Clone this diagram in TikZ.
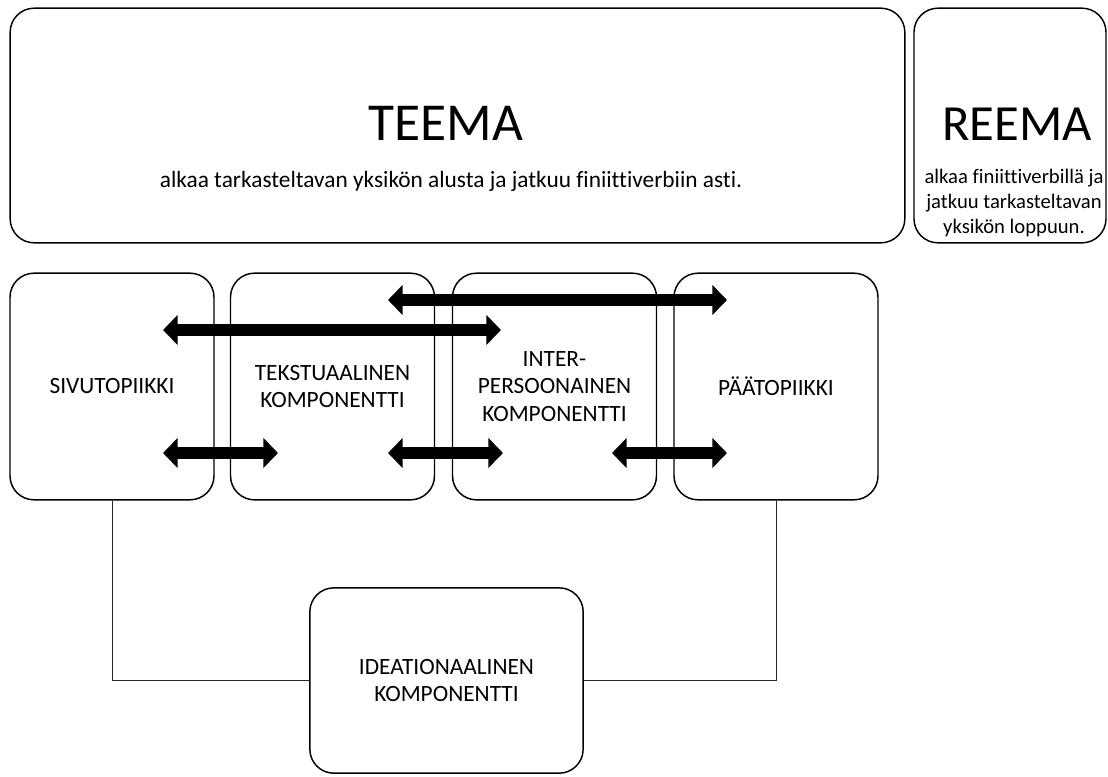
\documentclass[tikz,border=0pt]{standalone}
\usepackage{fontspec}
\setmainfont{Carlito}[Ligatures=NoCommon]
\usetikzlibrary{arrows.meta}

\begin{document}
\begin{tikzpicture}[
x=0.75pt, y=-0.75pt,
bx/.style = {draw, line width=1.1pt, rounded corners=18pt, minimum width=153pt, minimum height=170pt, align=center, font=\fontsize{17.5}{20.5}\selectfont},
big/.style = {inner sep=0pt, font=\fontsize{40}{48}\selectfont},
dar/.style = {{Triangle[width=22pt,length=11pt]}-{Triangle[width=22pt,length=11pt]}, line width=9.5pt},
ln/.style = {line width=0.75pt, black!85}
]
  \useasboundingbox (0,0) rectangle (1108,776);

  \node[bx, minimum width=671pt, minimum height=176pt] (teema) at (457.5,125.5) {};
  \node[bx, minimum width=144pt, minimum height=176pt] (reema) at (1010,125.5) {};
  \node[big, anchor=base] (teemat) at (446,140) {TEEMA};
  \node[inner sep=0pt, anchor=base, font=\fontsize{17.5}{20.5}\selectfont] (teemas) at (451,187) {alkaa tarkasteltavan yksikön alusta ja jatkuu finiittiverbiin asti.};
  \node[big, anchor=base, font=\fontsize{38}{46}\selectfont] (reemat) at (1017,140) {REEMA};
  \node[inner sep=0pt, align=center, font=\fontsize{15.5}{18.5}\selectfont] (reemas) at (1014,203) {alkaa finiittiverbillä ja\\jatkuu tarkasteltavan\\yksikön loppuun.};

  \node[bx] (sivu) at (112,386.5) {SIVUTOPIIKKI};
  \node[bx] (teks) at (332.5,386.5) {TEKSTUAALINEN\\KOMPONENTTI};
  \node[bx] (inter) at (554.5,386.5) {INTER-\\PERSOONAINEN\\KOMPONENTTI};
  \node[bx] (paa) at (776,386.5) {PÄÄTOPIIKKI};
  \node[bx, minimum width=205pt, minimum height=139pt] (idea) at (446.5,680.5) {IDEATIONAALINEN\\KOMPONENTTI};

  \draw[ln] (sivu.south) |- (idea.west);
  \draw[ln] (paa.south) |- (idea.east);

  \coordinate (a1l) at (388,300);
  \coordinate (a1r) at (727,300);
  \coordinate (a2l) at (163,330);
  \coordinate (a2r) at (501,330);
  \coordinate (a3l) at (163,453);
  \coordinate (a3r) at (278,453);
  \coordinate (a4l) at (388,453);
  \coordinate (a4r) at (503,453);
  \coordinate (a5l) at (612,453);
  \coordinate (a5r) at (727,453);

  \draw[dar] (a1l) -- (a1r);
  \draw[dar] (a2l) -- (a2r);
  \draw[dar] (a3l) -- (a3r);
  \draw[dar] (a4l) -- (a4r);
  \draw[dar] (a5l) -- (a5r);
\end{tikzpicture}
\end{document}
